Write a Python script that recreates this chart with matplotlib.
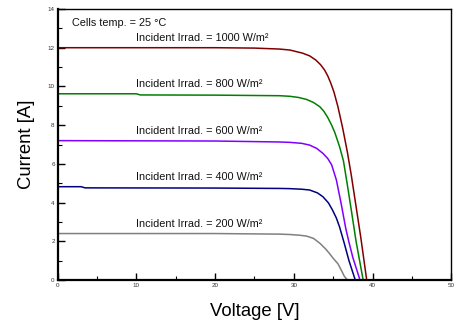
import matplotlib
matplotlib.use("Agg")
import matplotlib.pyplot as plt
from matplotlib.ticker import MultipleLocator

plt.rcParams['font.family'] = ['Liberation Sans', 'DejaVu Sans']

# Data
v_1000 = [0, 10, 20, 25, 28.2, 29.5, 31.1, 32.0, 32.8, 33.4, 33.9, 34.3, 34.7, 35.1, 35.6, 36.2, 36.8, 37.3, 37.9, 38.5, 39.25]
i_1000 = [12.0, 12.0, 12.0, 11.98, 11.93, 11.88, 11.72, 11.58, 11.36, 11.12, 10.85, 10.55, 10.16, 9.7, 8.95, 7.85, 6.6, 5.4, 3.8, 2.2, 0]
v_800 = [0, 10, 10.5, 20, 28.2, 29.5, 30.6, 31.6, 32.5, 33.3, 33.8, 34.3, 34.8, 35.2, 35.8, 36.3, 36.8, 37.3, 37.9, 38.8]
i_800 = [9.62, 9.62, 9.56, 9.55, 9.52, 9.49, 9.43, 9.33, 9.17, 8.95, 8.72, 8.4, 8.0, 7.62, 6.9, 6.15, 4.9, 3.6, 2.0, 0]
v_600 = [0, 20, 28.2, 29.5, 31.0, 32.0, 32.9, 33.7, 34.3, 34.8, 35.4, 36.0, 36.6, 37.0, 37.5, 38.4]
i_600 = [7.2, 7.18, 7.13, 7.11, 7.06, 6.97, 6.8, 6.54, 6.28, 5.95, 5.17, 3.96, 2.65, 1.95, 1.15, 0]
v_400 = [0, 3, 3.5, 20, 28.2, 29.5, 31.0, 32.0, 33.0, 33.7, 34.4, 34.9, 35.4, 35.8, 36.4, 37.0, 37.8]
i_400 = [4.82, 4.82, 4.76, 4.75, 4.73, 4.72, 4.69, 4.65, 4.5, 4.3, 3.98, 3.62, 3.2, 2.75, 1.9, 1.0, 0]
v_200 = [0, 20, 28.2, 29.5, 30.8, 31.6, 32.5, 33.3, 34.0, 34.5, 35.0, 35.6, 36.1, 36.4, 36.8]
i_200 = [2.4, 2.4, 2.37, 2.35, 2.31, 2.27, 2.15, 1.9, 1.62, 1.38, 1.12, 0.84, 0.45, 0.2, 0]

series = [
    (v_1000, i_1000, '#800000', 'Incident Irrad. = 1000 W/m²', 12.5),
    (v_800, i_800, '#008000', 'Incident Irrad. = 800 W/m²', 10.12),
    (v_600, i_600, '#8000FF', 'Incident Irrad. = 600 W/m²', 7.7),
    (v_400, i_400, '#000080', 'Incident Irrad. = 400 W/m²', 5.32),
    (v_200, i_200, '#808080', 'Incident Irrad. = 200 W/m²', 2.9),
]

fig = plt.figure(figsize=(4.62, 3.27), dpi=100)
ax = fig.add_axes([0.1245, 0.1437, 0.8525, 0.8288])

for v, i, c, lab, ly in series:
    ax.plot(v, i, color=c, lw=1.1, solid_joinstyle='round')
    ax.text(10, ly, lab, fontsize=7.8, ha='left', va='center', color='#111111')

ax.text(1.9, 13.27, 'Cells temp. = 25 °C', fontsize=7.8, ha='left', va='center', color='#111111')

ax.set_xlim(0, 50)
ax.set_ylim(0, 14)
ax.xaxis.set_major_locator(MultipleLocator(10))
ax.xaxis.set_minor_locator(MultipleLocator(5))
ax.yaxis.set_major_locator(MultipleLocator(2))
ax.yaxis.set_minor_locator(MultipleLocator(1))
ax.tick_params(which='major', direction='in', length=5, width=1, labelsize=4.5,
               labelcolor='#333333', pad=2)
ax.tick_params(which='minor', direction='in', length=3, width=0.8)
ax.tick_params(top=False, right=False, which='both')

for s in ['left', 'bottom']:
    ax.spines[s].set_linewidth(1.6)
for s in ['top', 'right']:
    ax.spines[s].set_linewidth(1.0)

ax.set_xlabel('Voltage [V]', fontsize=13.3, labelpad=11)
ax.set_ylabel('Current [A]', fontsize=13.3, labelpad=9)

fig.savefig('out.png', dpi=100)
